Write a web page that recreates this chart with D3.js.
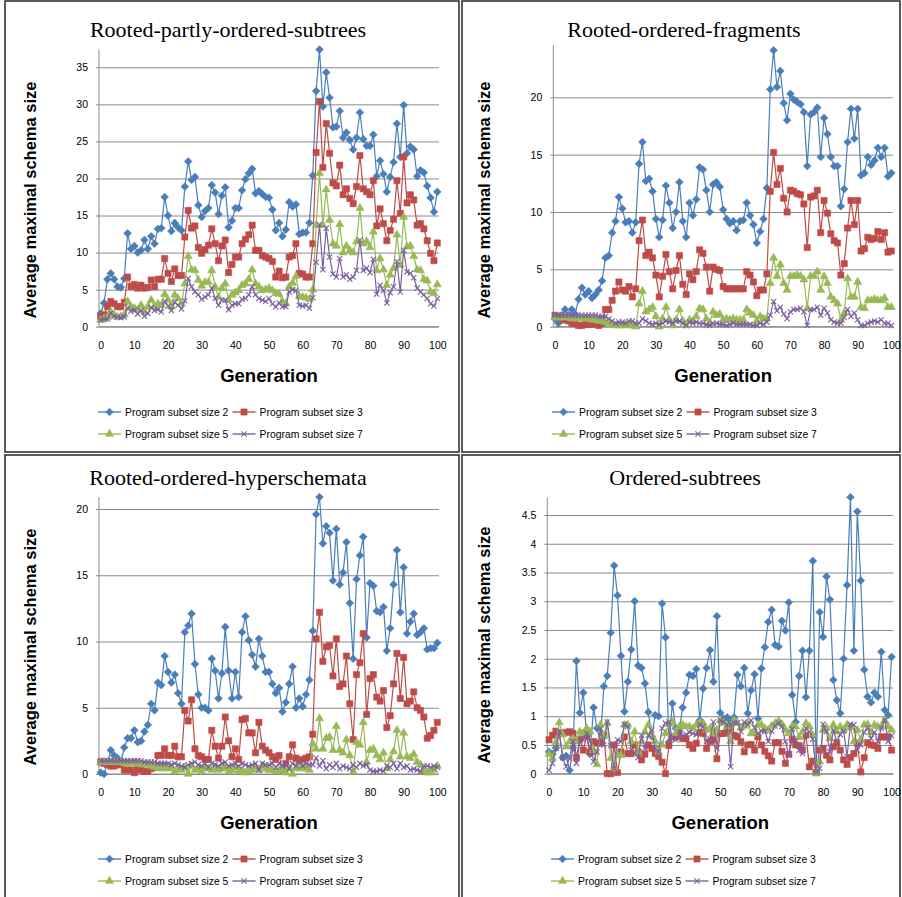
<!DOCTYPE html>
<html>
<head>
<meta charset="utf-8">
<script src="https://cdn.jsdelivr.net/npm/d3@7/dist/d3.min.js"></script>
<style>
body { margin: 0; background: #fff; }
svg { display: block; }
</style>
</head>
<body>
<div id="chart"></div>
<script>
// ---- data ----
const generations = d3.range(0, 101);
const seriesNames = ["Program subset size 2", "Program subset size 3", "Program subset size 5", "Program subset size 7"];
const panelTitles = ["Rooted-partly-ordered-subtrees", "Rooted-ordered-fragments", "Rooted-ordered-hyperschemata", "Ordered-subtrees"];
const xTicks = [0, 10, 20, 30, 40, 50, 60, 70, 80, 90, 100];
const p1Ticks = [0, 5, 10, 15, 20, 25, 30, 35];
const p2Ticks = [0, 5, 10, 15, 20];
const p3Ticks = [0, 5, 10, 15, 20];
const p4Ticks = [0, 0.5, 1, 1.5, 2, 2.5, 3, 3.5, 4, 4.5];

const p1Size2 = [1.8,3.2,6.4,7.2,6.4,5.4,5.3,6.5,12.6,10.5, 10.9,10.0,10.3,11.7,10.5,12.2,11.2,13.2,13.3,17.5,
  15.0,12.9,14.0,13.4,13.0,18.9,22.3,19.8,20.2,16.4, 14.8,15.6,16.0,19.1,18.1,15.2,17.7,18.8,13.4,14.3,
  16.0,16.0,18.4,19.9,20.7,21.3,18.0,18.3,17.9,17.5, 17.4,15.8,13.0,14.0,12.2,13.1,16.8,16.2,16.5,12.5,
  12.7,12.7,14.0,20.4,31.8,37.4,29.7,34.3,30.9,26.9, 27.0,29.1,25.5,26.2,25.2,23.9,25.5,28.9,25.3,24.4,
  24.4,25.9,20.3,22.4,20.6,18.2,20.2,22.2,27.4,22.9, 29.9,23.4,24.3,23.9,20.3,21.1,20.8,19.0,17.4,15.5,18.2];
const p1Size3 = [1.3,1.6,2.7,3.4,3.1,2.7,2.7,3.3,6.7,5.4, 5.7,5.2,5.6,5.2,5.3,6.3,5.4,6.4,6.4,9.2,
  7.2,6.1,7.8,6.9,6.9,12.1,15.7,13.3,13.6,10.7, 9.9,10.4,11.0,13.2,11.2,8.9,10.9,11.7,7.3,8.4,
  9.4,9.4,11.2,11.8,12.4,13.7,10.3,10.3,9.6,9.4, 9.2,8.8,6.7,7.5,6.6,6.7,9.4,9.6,11.2,7.2,
  7.1,6.7,6.7,11.2,23.5,30.4,21.5,27.4,23.4,19.4, 19.0,21.8,17.8,18.6,17.3,16.6,18.9,23.1,18.6,18.2,
  17.8,19.7,13.6,15.9,13.9,11.6,13.0,14.5,19.7,15.3, 22.9,16.7,17.8,17.1,13.7,13.9,13.2,11.6,9.9,8.9,11.3];
const p1Size5 = [0.9,1.1,1.3,2.0,1.6,1.3,1.4,1.6,3.4,2.7, 2.5,2.3,2.9,2.0,2.7,3.6,2.7,3.1,2.9,4.4,
  3.6,2.7,4.3,3.8,3.1,5.8,9.5,7.7,7.6,6.3, 5.5,6.0,6.0,7.6,5.4,4.0,5.2,5.8,3.6,4.3,
  4.6,4.9,5.6,5.8,6.4,7.7,5.8,5.4,4.9,5.0, 5.2,4.9,4.5,4.4,3.4,3.1,5.4,5.9,6.8,4.1,
  4.0,3.9,3.7,5.0,13.7,20.7,13.7,18.5,14.4,11.2, 10.9,13.8,10.0,10.9,10.3,10.0,11.5,16.0,11.2,11.5,
  10.7,12.8,7.6,9.2,7.7,5.6,7.0,7.9,12.4,8.3, 14.8,10.8,10.9,9.5,7.7,7.6,6.4,6.2,4.7,4.5,5.7];
const p1Size7 = [0.9,1.0,1.0,1.8,1.4,1.3,1.2,1.3,2.5,2.1, 2.2,1.7,2.2,1.4,1.8,2.6,2.2,2.3,2.0,3.4,
  2.8,2.2,3.3,2.9,2.4,3.5,6.5,5.4,4.7,4.3, 3.7,4.0,4.3,5.2,3.8,2.9,3.6,3.6,2.3,2.9,
  3.1,3.1,3.7,3.8,4.3,5.4,4.3,3.8,3.6,3.4, 3.8,3.1,2.7,3.2,2.7,2.7,4.7,5.0,4.9,2.9,
  2.8,2.9,2.5,3.9,8.7,13.8,7.7,13.3,9.4,7.1, 6.7,9.2,6.7,7.0,6.4,6.7,7.6,11.7,7.6,7.9,
  7.3,9.1,4.4,5.6,4.9,3.2,4.6,5.4,8.8,4.7, 10.3,7.4,7.2,6.6,5.2,4.7,4.3,3.8,3.1,2.8,3.8];

const p2Size2 = [0.7,0.3,1.0,1.5,1.0,1.5,1.1,2.4,3.4,2.8, 3.1,2.5,2.8,3.2,4.0,6.0,6.2,8.2,9.2,11.3,
  10.3,9.1,9.2,8.2,9.1,14.2,16.1,12.7,12.9,11.8, 9.4,7.8,9.3,12.3,10.8,8.6,10.0,12.6,9.2,7.8,
  10.8,9.7,11.1,13.9,13.7,11.9,10.0,12.4,12.6,12.2, 10.2,9.4,9.0,9.2,8.4,9.2,9.3,10.8,9.7,8.9,
  7.3,8.3,9.4,12.1,20.7,24.1,20.9,22.3,19.5,18.0, 20.3,19.8,19.6,19.4,18.7,14.0,18.5,18.7,19.1,14.8,
  18.2,16.8,14.8,14.0,14.0,10.5,12.0,16.1,19.0,16.4, 19.0,13.2,13.4,14.8,14.1,14.5,15.6,14.8,15.6,13.1,13.4];
const p2Size3 = [1.0,0.9,0.6,0.6,0.5,0.3,0.3,0.1,0.1,0.2, 0.2,0.2,0.3,0.1,0.3,1.5,1.5,2.3,3.1,3.9,
  3.2,3.1,3.5,2.6,3.3,7.5,9.3,6.2,6.5,6.0, 4.5,2.6,4.4,6.3,4.8,3.3,4.9,6.2,3.7,2.8,
  4.6,4.1,4.8,6.7,6.4,5.2,3.1,5.2,5.0,4.9, 3.5,3.3,3.3,3.3,3.3,3.3,3.3,4.8,4.5,3.9,
  2.7,3.2,3.2,4.6,11.8,15.2,12.4,13.8,11.2,10.0, 11.9,11.8,11.6,11.5,10.7,6.9,11.3,11.4,11.9,8.2,
  11.0,9.9,8.1,7.5,7.3,4.5,5.5,8.6,11.0,8.9, 11.0,6.6,6.8,7.8,7.6,7.7,8.3,7.6,8.2,6.5,6.6];
const p2Size5 = [0.8,0.8,0.8,0.8,0.8,0.7,0.7,0.7,0.7,0.7, 0.7,0.6,0.6,0.5,0.5,0.4,0.3,0.2,0.1,0.1,
  0.1,0.2,0.1,0.1,0.0,2.0,3.1,1.3,1.5,1.7, 0.9,0.0,0.7,1.7,0.6,0.1,0.6,1.5,0.5,0.1,
  0.6,0.5,0.9,1.6,1.5,0.7,0.3,1.3,1.0,1.1, 0.6,0.7,0.6,0.7,0.6,0.6,0.6,1.5,1.2,1.0,
  0.5,0.9,0.7,0.7,3.8,6.0,4.4,5.4,3.8,3.2, 4.4,4.4,4.5,4.4,4.1,1.6,4.4,4.4,4.8,3.2,
  4.4,3.8,2.6,2.3,2.0,0.6,1.2,4.2,2.6,2.6, 3.9,1.7,1.6,2.3,2.3,2.4,2.3,2.3,2.5,1.7,1.7];
const p2Size7 = [1.0,1.0,1.0,1.0,1.0,1.0,1.0,1.0,1.0,1.0, 1.0,1.0,1.0,0.9,0.9,0.9,0.7,0.5,0.3,0.4,
  0.4,0.3,0.5,0.5,0.3,0.3,0.7,0.5,0.3,0.2, 0.3,0.2,0.3,0.5,0.4,0.3,0.5,0.5,0.3,0.1,
  0.4,0.3,0.4,0.3,0.3,0.2,0.1,0.3,0.3,0.2, 0.2,0.1,0.2,0.3,0.2,0.2,0.2,0.2,0.2,0.1,
  0.1,0.3,0.2,0.4,1.0,2.2,1.4,1.7,1.1,0.7, 1.3,1.5,1.5,1.6,1.3,0.1,1.5,1.5,1.7,1.0,
  1.6,1.2,0.6,0.4,0.3,0.3,0.8,1.5,0.9,1.2, 0.6,0.1,0.1,0.3,0.4,0.5,0.4,0.6,0.3,0.3,0.1];

const p3Size2 = [0.1,0.0,0.8,1.8,1.4,1.2,0.9,2.0,2.7,2.7, 3.3,2.4,2.5,3.2,3.7,5.3,4.8,6.9,6.7,8.9,
  7.7,6.9,7.5,6.1,5.3,10.7,11.2,12.1,8.3,6.0, 5.0,5.0,4.8,8.7,7.8,5.7,7.6,11.1,7.8,5.7,
  7.7,5.8,10.7,11.9,10.1,9.0,8.1,10.2,8.9,7.7, 7.7,6.8,6.1,6.5,4.7,5.4,6.8,8.1,5.0,5.7,
  5.1,6.0,7.1,10.8,19.6,20.9,17.4,18.7,18.2,14.6, 18.5,14.3,15.2,17.5,12.9,8.7,14.7,16.5,17.9,10.3,
  14.4,14.2,12.3,12.2,12.6,9.3,11.0,14.3,16.9,12.2, 15.6,10.6,11.5,12.1,10.5,10.7,11.0,9.4,9.5,9.5,9.9];
const p3Size3 = [0.9,0.8,0.7,0.6,0.6,0.7,0.7,0.3,0.3,0.3, 0.1,0.4,0.3,0.2,0.2,0.4,0.5,1.4,1.4,1.9,
  1.4,1.4,2.1,1.3,1.3,4.8,4.0,5.6,1.9,1.4, 1.3,1.1,1.1,3.3,2.1,1.2,2.1,4.3,2.5,1.3,
  1.9,1.1,4.1,4.2,3.1,3.1,1.6,3.9,2.1,1.8, 1.6,1.3,1.1,1.4,0.3,0.8,1.3,2.2,1.2,1.0,
  1.1,1.2,1.3,3.0,10.2,12.2,8.5,9.6,9.7,7.4, 10.2,6.6,6.8,8.9,5.3,2.6,7.5,8.4,10.6,4.5,
  7.2,7.5,5.8,5.5,6.3,3.5,4.4,6.8,9.1,5.7, 8.8,5.3,5.5,6.2,5.0,4.8,4.3,2.7,2.9,3.3,3.9];
const p3Size5 = [0.9,0.9,0.9,0.9,0.9,0.9,0.9,0.8,0.8,0.8, 0.8,0.8,0.7,0.7,0.7,0.6,0.5,0.5,0.4,0.5,
  0.4,0.5,0.2,0.4,0.3,0.5,0.0,0.6,0.3,0.4, 0.2,0.5,0.4,0.3,0.5,0.3,0.4,0.5,0.2,0.3,
  0.5,0.2,0.3,0.1,0.2,0.3,0.5,0.3,0.6,0.4, 0.3,0.3,0.2,0.3,0.3,0.1,0.4,0.0,0.5,0.4,
  0.5,0.4,0.3,2.3,1.9,4.2,1.9,2.7,2.8,1.8, 3.6,1.8,1.6,2.6,1.4,0.2,2.4,2.2,3.9,0.9,
  1.8,1.9,1.4,1.1,1.6,0.4,1.1,1.7,3.3,1.3, 3.1,1.3,1.2,1.5,0.9,0.7,0.2,0.1,0.1,0.3,0.6];
const p3Size7 = [1.0,1.0,1.0,1.0,1.0,1.0,1.0,1.0,1.0,1.0, 1.0,1.0,1.0,0.9,0.9,0.9,0.9,0.8,0.8,0.8,
  0.8,0.7,0.8,0.7,0.6,0.5,0.7,0.8,0.9,0.7, 0.6,0.8,0.5,0.8,0.7,0.6,0.8,0.9,0.6,0.7,
  0.8,0.6,0.8,0.7,0.6,0.7,0.8,0.3,0.8,0.7, 0.7,0.8,0.5,0.8,0.6,0.7,0.4,0.8,0.6,0.9,
  0.6,0.8,0.7,0.7,1.2,0.6,1.0,0.4,0.7,0.5, 0.8,0.4,0.6,0.5,0.4,0.7,0.5,0.8,0.6,0.7,
  0.3,0.2,0.2,0.3,0.2,0.6,0.5,0.8,0.4,0.8, 0.5,0.6,0.3,0.4,0.3,0.2,0.6,0.6,0.5,0.6,0.5];

const p4Size2 = [0.38,0.34,0.45,0.7,0.28,0.31,0.06,0.45,1.96,1.06, 1.41,0.65,0.34,1.15,0.79,0.55,1.52,1.70,2.45,3.62,
  3.10,2.05,1.08,1.60,2.16,3.0,1.88,1.84,1.57,1.07, 0.65,1.02,1.0,2.96,2.37,0.55,1.22,0.79,0.75,1.15,
  1.41,1.72,1.70,1.82,0.93,1.48,1.84,2.15,1.60,2.74, 1.06,0.96,0.98,0.9,0.98,1.72,1.52,1.84,1.05,1.45,
  1.73,0.96,1.83,2.2,2.64,2.85,2.24,2.21,2.66,2.49, 2.98,1.37,0.9,1.7,2.14,1.33,2.14,3.7,0.03,2.81,
  2.38,3.43,3.03,1.63,1.28,1.05,2.0,3.28,4.81,2.14, 4.56,3.36,1.81,1.34,1.24,1.41,1.34,2.12,1.11,1.02,2.03];
const p4Size3 = [0.59,0.67,0.74,0.7,0.7,0.72,0.73,0.7,0.28,0.6, 0.41,0.67,0.38,0.56,0.53,0.53,0.67,0.0,0.0,0.5,
  0.02,0.38,0.64,0.35,0.35,0.5,0.38,0.24,0.34,0.5, 0.44,0.35,0.3,0.2,0.0,0.49,0.64,0.64,0.68,0.61,
  0.61,0.5,0.44,0.53,0.72,0.7,0.44,0.56,0.59,0.26, 0.7,0.7,0.73,0.79,0.67,0.64,0.56,0.38,0.5,0.51,
  0.41,0.64,0.5,0.39,0.31,0.22,0.54,0.54,0.39,0.18, 0.34,0.6,0.5,0.49,0.41,0.67,0.12,0.22,0.02,0.41,
  0.44,0.32,0.24,0.47,0.53,0.41,0.24,0.16,0.28,0.35, 0.53,0.03,0.28,0.54,0.5,0.49,0.44,0.64,0.64,0.64,0.41];
const p4Size5 = [0.34,0.27,0.55,0.89,0.68,0.47,0.56,0.61,0.57,0.73, 0.7,0.79,0.73,0.41,0.16,0.85,0.66,0.88,0.27,0.09,
  0.32,0.32,0.85,0.85,0.56,0.73,0.38,0.56,0.73,0.85, 0.67,0.56,0.38,0.5,0.7,0.86,0.9,0.7,0.82,0.85,
  0.82,0.82,0.79,0.85,0.89,0.88,0.76,0.79,0.7,0.76, 0.93,0.88,0.82,0.56,0.93,0.88,0.8,0.83,0.89,0.7,
  0.7,0.85,0.85,0.79,0.76,0.83,0.88,0.92,0.86,0.76, 0.7,0.83,0.82,0.63,0.73,0.88,0.82,0.67,0.0,0.21,
  0.76,0.8,0.61,0.85,0.73,0.82,0.76,0.85,0.8,0.56, 0.76,0.59,0.85,0.86,0.72,0.85,0.82,0.82,0.93,0.82,0.76];
const p4Size7 = [0.06,0.18,0.44,0.73,0.28,0.12,0.27,0.56,0.18,0.56, 0.59,0.7,0.57,0.21,0.38,0.79,0.5,0.9,0.49,0.09,
  0.59,0.56,0.86,0.82,0.41,0.35,0.28,0.67,0.44,0.67, 0.76,0.44,0.38,0.79,0.88,0.9,0.61,0.59,0.67,0.66,
  0.68,0.72,0.7,0.68,0.85,0.82,0.56,0.61,0.9,0.44, 0.93,0.9,0.85,0.12,0.89,0.89,0.73,0.9,0.85,0.93,
  0.8,0.7,0.74,0.74,0.56,0.74,0.83,0.88,0.82,0.56, 0.32,0.78,0.57,0.41,0.35,0.79,0.73,0.6,0.02,0.09,
  0.86,0.73,0.38,0.76,0.56,0.68,0.74,0.3,0.86,0.85, 0.41,0.5,0.72,0.8,0.61,0.72,0.56,0.79,0.93,0.56,0.66];

// ---- look ----
const colors = ["#4a7ebb", "#be4b48", "#98b954", "#7d60a0"];
const gridColor = "#8a8a8a";

const diamond = { draw(ctx, size) { const r = Math.sqrt(size / 2); ctx.moveTo(0, -r); ctx.lineTo(r, 0); ctx.lineTo(0, r); ctx.lineTo(-r, 0); ctx.closePath(); } };
const markers = [
  { type: diamond, size: 30, filled: true },
  { type: d3.symbolSquare, size: 38, filled: true },
  { type: d3.symbolTriangle, size: 28, filled: true },
  { type: d3.symbolX, size: 20, filled: false }
];

const panels = [
  { title: panelTitles[0], data: [p1Size2, p1Size3, p1Size5, p1Size7], ticks: p1Ticks,
    box: [5, 1, 459, 452], left: 99, right: 439, bottom: 326.7, tickTopPx: 67.3, axisTop: 49.6,
    titleX: 228, titleY: 37, yTitleX: 30, yTitleY: 200, legendX: 98, legendY: 412 },
  { title: panelTitles[1], data: [p2Size2, p2Size3, p2Size5, p2Size7], ticks: p2Ticks,
    box: [462, 1, 900, 452], left: 553.3, right: 893, bottom: 326.7, tickTopPx: 97.3, axisTop: 45,
    titleX: 684, titleY: 37, yTitleX: 484, yTitleY: 200, legendX: 552, legendY: 412 },
  { title: panelTitles[2], data: [p3Size2, p3Size3, p3Size5, p3Size7], ticks: p3Ticks,
    box: [5, 455, 459, 902], left: 99, right: 439, bottom: 774, tickTopPx: 509, axisTop: 497,
    titleX: 228, titleY: 485, yTitleX: 30, yTitleY: 647, legendX: 98, legendY: 859 },
  { title: panelTitles[3], data: [p4Size2, p4Size3, p4Size5, p4Size7], ticks: p4Ticks,
    box: [462, 455, 900, 902], left: 547.3, right: 893.3, bottom: 773.7, tickTopPx: 515, axisTop: 497.7,
    titleX: 685, titleY: 485, yTitleX: 484, yTitleY: 645, legendX: 551, legendY: 859 }
];

const svg = d3.select("#chart").append("svg")
  .attr("width", 902)
  .attr("height", 897);

svg.append("rect").attr("width", 902).attr("height", 897).attr("fill", "white");

function drawMarker(g, m, color, x, y) {
  g.append("path")
    .attr("d", d3.symbol().type(m.type).size(m.size))
    .attr("transform", `translate(${x},${y})`)
    .attr("fill", m.filled ? color : "none")
    .attr("stroke", color)
    .attr("stroke-width", m.filled ? 0.6 : 1.1);
}

panels.forEach(p => {
  const g = svg.append("g");
  const [bx0, by0, bx1, by1] = p.box;

  g.append("rect")
    .attr("x", bx0).attr("y", by0)
    .attr("width", bx1 - bx0).attr("height", by1 - by0)
    .attr("fill", "none").attr("stroke", "#333").attr("stroke-width", 1.6);

  const x = d3.scaleLinear().domain([-0.5, 100.5]).range([p.left, p.right]);
  const tickMax = p.ticks[p.ticks.length - 1];
  const y = d3.scaleLinear().domain([0, tickMax]).range([p.bottom, p.tickTopPx]);

  // gridlines + y labels
  const yAxis = d3.axisLeft(y).tickValues(p.ticks).tickSize(-(p.right - p.left)).tickPadding(8)
    .tickFormat(d => d3.format("~g")(d));
  const ya = g.append("g").attr("transform", `translate(${p.left},0)`).call(yAxis);
  ya.select(".domain").remove();
  ya.selectAll(".tick line").attr("stroke", gridColor).attr("x1", -3);
  ya.selectAll(".tick text")
    .attr("font-family", "Liberation Sans, Arial, sans-serif")
    .attr("font-size", "10.5px").attr("fill", "#000").attr("x", -11);

  // y axis line
  g.append("line")
    .attr("x1", p.left).attr("x2", p.left)
    .attr("y1", p.axisTop).attr("y2", p.bottom)
    .attr("stroke", gridColor);

  // x axis
  const xAxis = d3.axisBottom(x).tickValues(xTicks).tickSize(0).tickPadding(15);
  const xa = g.append("g").attr("transform", `translate(0,${p.bottom})`).call(xAxis);
  xa.select(".domain").attr("stroke", gridColor).attr("d", `M${p.left},0H${p.right}`);
  xa.selectAll(".tick text")
    .attr("font-family", "Liberation Sans, Arial, sans-serif")
    .attr("font-size", "10.5px").attr("fill", "#000");

  // series
  p.data.forEach((values, si) => {
    const line = d3.line().x((d, i) => x(generations[i])).y(d => y(d));
    g.append("path")
      .datum(values)
      .attr("d", line)
      .attr("fill", "none")
      .attr("stroke", colors[si])
      .attr("stroke-width", 1.2);
    const mg = g.append("g");
    values.forEach((v, i) => drawMarker(mg, markers[si], colors[si], x(generations[i]), y(v)));
  });

  // titles
  g.append("text")
    .attr("x", p.titleX).attr("y", p.titleY)
    .attr("text-anchor", "middle")
    .attr("font-family", "Liberation Serif, Times New Roman, serif")
    .attr("font-size", "22px")
    .text(p.title);

  g.append("text")
    .attr("transform", `translate(${p.yTitleX},${p.yTitleY}) rotate(-90)`)
    .attr("text-anchor", "middle")
    .attr("dominant-baseline", "central")
    .attr("font-family", "Liberation Sans, Arial, sans-serif")
    .attr("font-weight", "bold")
    .attr("font-size", "16.5px")
    .text("Average maximal schema size");

  g.append("text")
    .attr("x", (p.left + p.right) / 2).attr("y", p.bottom + 55)
    .attr("text-anchor", "middle")
    .attr("font-family", "Liberation Sans, Arial, sans-serif")
    .attr("font-weight", "bold")
    .attr("font-size", "18.5px")
    .text("Generation");

  // legend
  seriesNames.forEach((name, si) => {
    const lx = p.legendX + (si % 2) * 134.5;
    const ly = p.legendY + Math.floor(si / 2) * 22;
    const lg = g.append("g");
    lg.append("line")
      .attr("x1", lx).attr("x2", lx + 23)
      .attr("y1", ly).attr("y2", ly)
      .attr("stroke", colors[si]).attr("stroke-width", 1.4);
    drawMarker(lg, markers[si], colors[si], lx + 11.5, ly);
    lg.append("text")
      .attr("x", lx + 27).attr("y", ly)
      .attr("dy", "0.35em")
      .attr("font-family", "Liberation Sans, Arial, sans-serif")
      .attr("font-size", "10.4px")
      .text(name);
  });
});
</script>
</body>
</html>
